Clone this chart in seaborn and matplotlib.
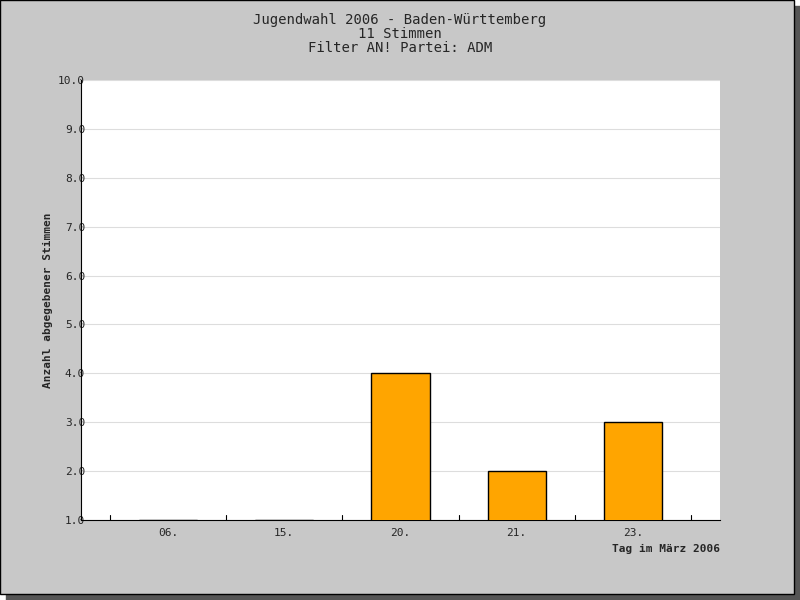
import matplotlib
matplotlib.use("Agg")
import matplotlib.pyplot as plt
import seaborn as sns
import pandas as pd
from matplotlib.patches import Rectangle

days = ["06.", "15.", "20.", "21.", "23."]
votes = [1, 1, 4, 2, 3]
yticks = [1, 2, 3, 4, 5, 6, 7, 8, 9, 10]

sns.set_style("white")
plt.rcParams['font.family'] = ['DejaVu Sans Mono']

fig = plt.figure(figsize=(8, 6), dpi=100)
fig.patch.set_facecolor("white")
# shadow and frame
fig.add_artist(Rectangle((6/800, 0), 794/800, 594/600, transform=fig.transFigure, color="#555555", zorder=-3))
fig.add_artist(Rectangle((0, 6/600), 794/800, 594/600, transform=fig.transFigure, facecolor="#c8c8c8", edgecolor="black", lw=1, zorder=-2))

ax = fig.add_axes([81/800, 80/600, 639/800, 440/600])
df = pd.DataFrame({"day": days, "votes": votes})
sns.barplot(data=df, x="day", y="votes", color="orange", saturation=1, width=0.5,
            edgecolor="black", linewidth=1, ax=ax, zorder=3)
ax.set_ylim(1, 10)
ax.set_yticks(yticks)
ax.set_yticklabels([f"{v:.1f}" for v in yticks], fontsize=8)
ax.set_yticks([v + 0.5 for v in yticks[:-1]], minor=True)
ax.yaxis.grid(True, color="#dddddd", lw=0.8, zorder=0)
ax.tick_params(axis="y", which="major", direction="in", length=5, pad=-3, labelsize=8)
ax.tick_params(axis="y", which="minor", direction="in", length=3)
ax.tick_params(axis="x", direction="in", length=0, pad=6, labelsize=8)
for i in range(len(days) + 1):
    ax.plot([i - 0.5, i - 0.5], [1, 1.1], color="black", lw=0.8, clip_on=False, zorder=4)
for s in ["top", "right"]:
    ax.spines[s].set_visible(False)
ax.spines["left"].set_color("black")
ax.spines["bottom"].set_color("black")
ax.set_xlabel("Tag im März 2006", fontsize=8, fontweight="bold", loc="right")
ax.set_ylabel("Anzahl abgegebener Stimmen", fontsize=8, fontweight="bold")
fig.text(400/800, 1 - 34/600, "Jugendwahl 2006 - Baden-Württemberg\n11 Stimmen\nFilter AN! Partei: ADM",
         ha="center", va="center", fontsize=10, linespacing=1.0)
fig.savefig("out.png", dpi=100)
